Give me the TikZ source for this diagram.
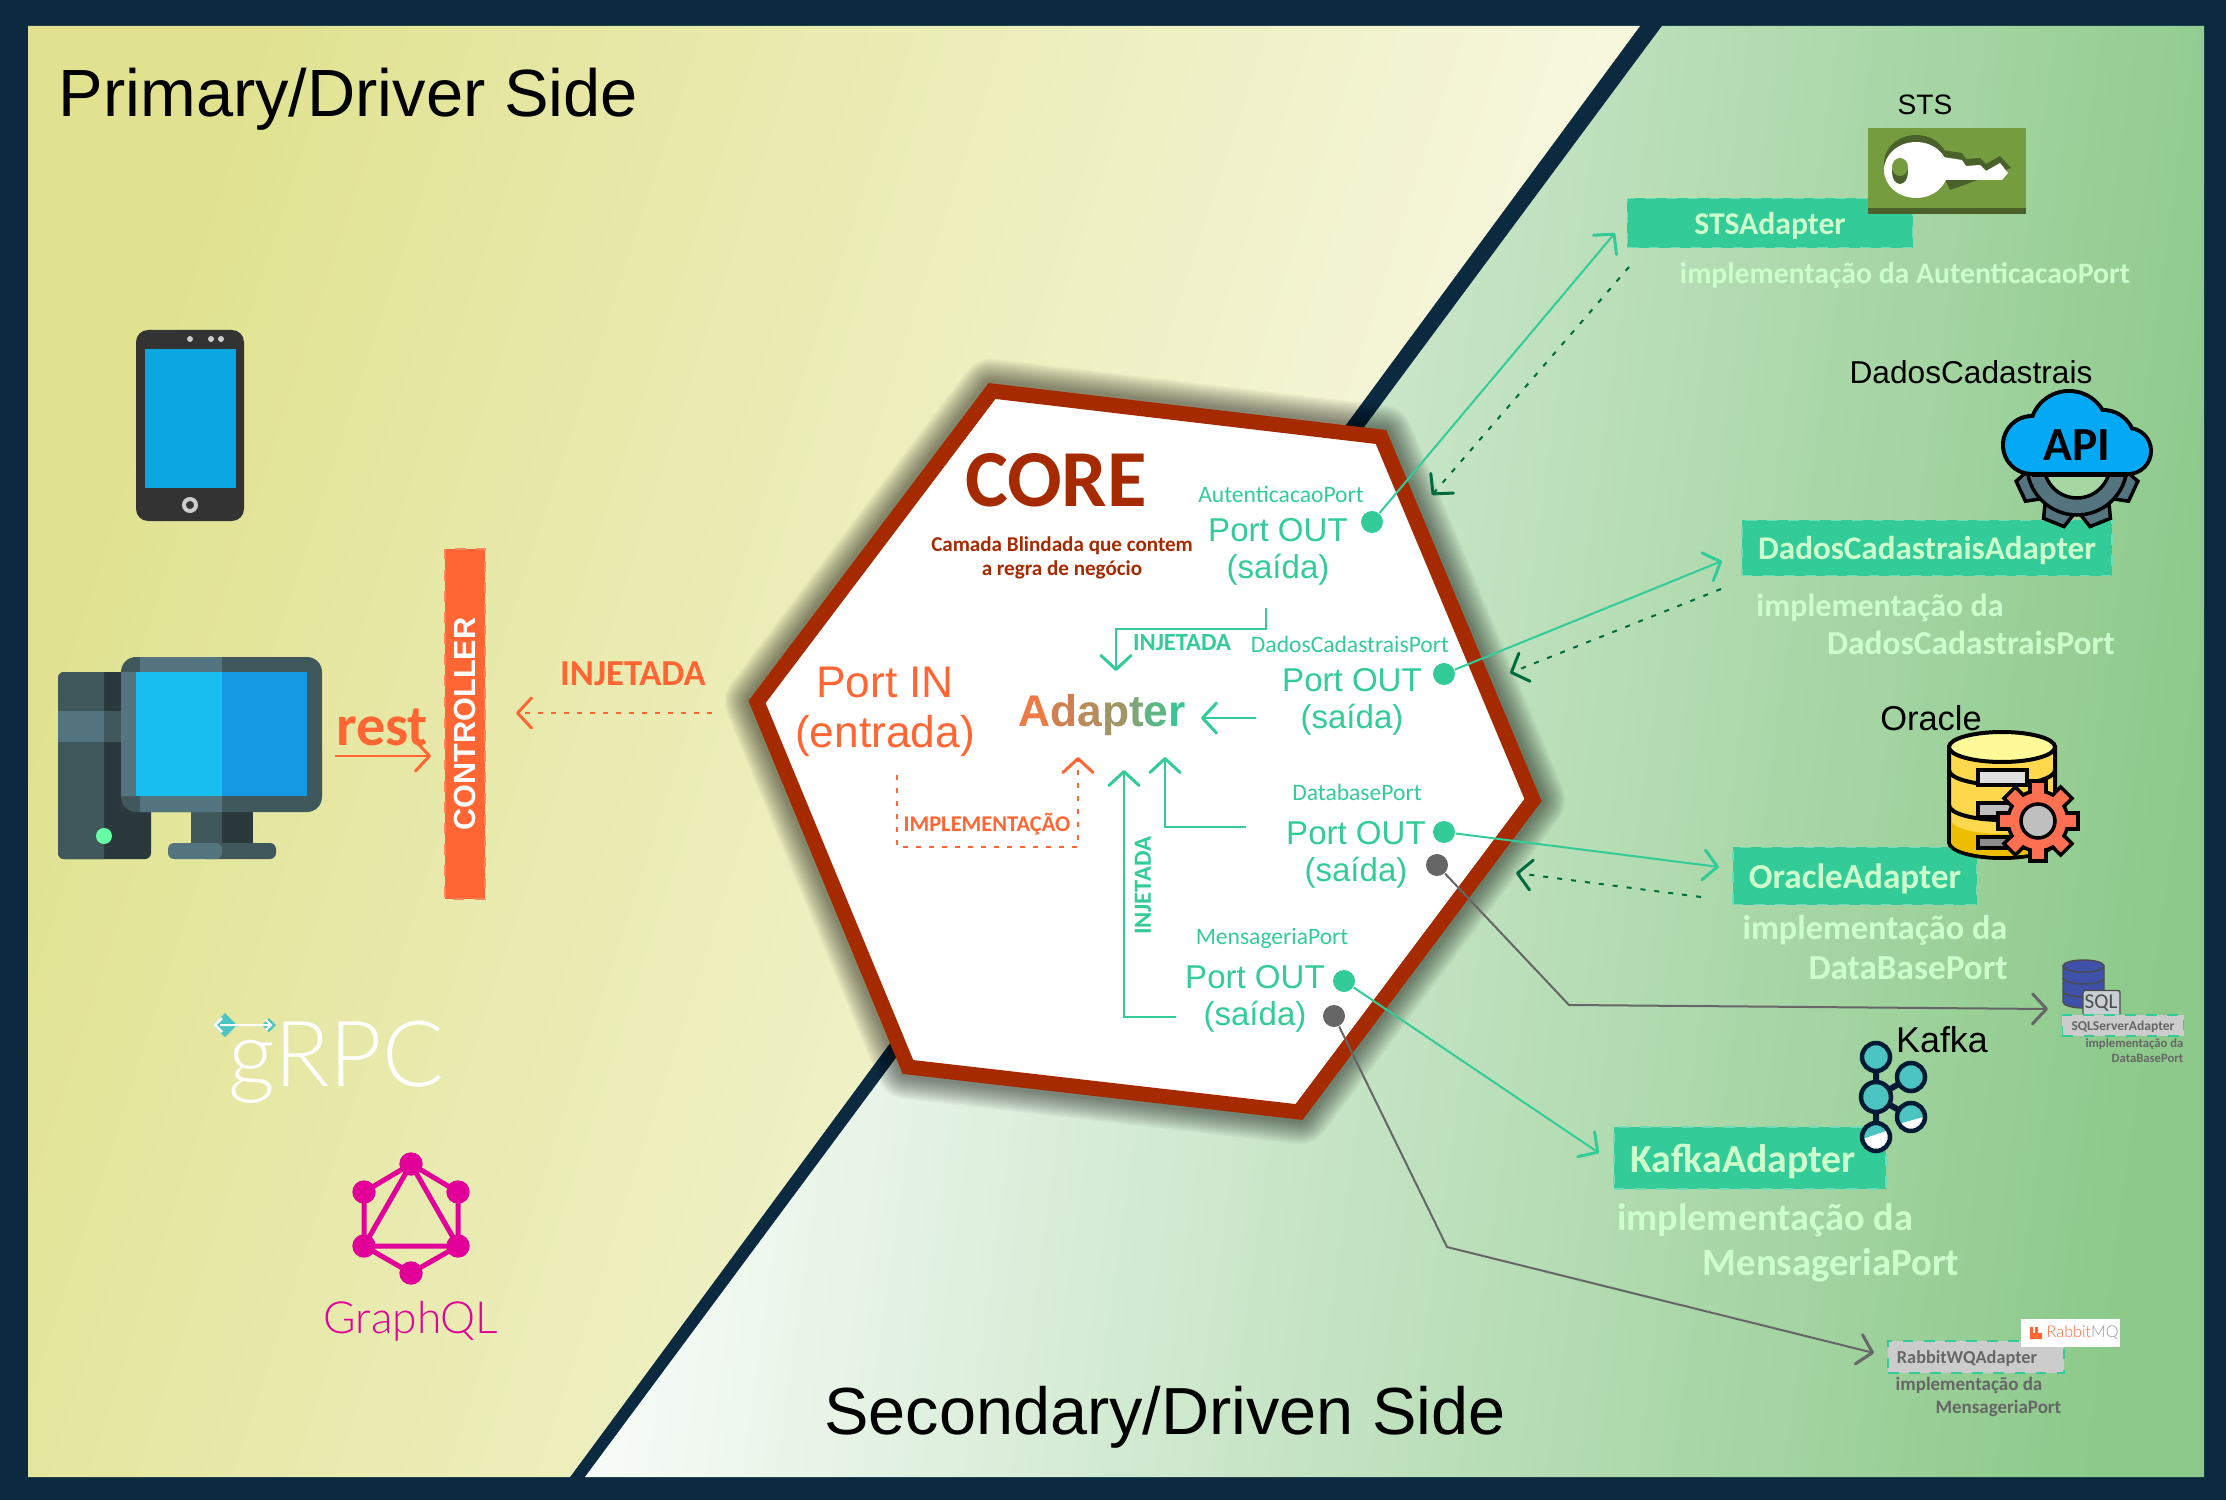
\documentclass[tikz,border=0pt]{standalone}
\usepackage{fontspec}
\usepackage{tikz}
\usetikzlibrary{arrows.meta}
\setmainfont{Liberation Sans}
\newfontfamily\handfont{Carlito}
\newfontfamily\thinfont{Lato Light}

\newcommand{\fs}[2]{\fontsize{#1}{#2}\selectfont}

\definecolor{navy}{HTML}{0B2A40}
\definecolor{coreRed}{HTML}{A52A00}
\definecolor{portGreen}{HTML}{33CC99}
\definecolor{paleGreen}{HTML}{CCFFCC}
\definecolor{backGreen}{HTML}{006B3C}
\definecolor{orangeTxt}{HTML}{FF6633}
\definecolor{greyTxt}{HTML}{666666}
\definecolor{pink}{HTML}{E10098}
\definecolor{slateA}{HTML}{40575C}
\definecolor{slateB}{HTML}{2A3A3C}
\definecolor{slateC}{HTML}{547580}
\definecolor{yellowA}{HTML}{E0E290}
\definecolor{yellowB}{HTML}{FBFBEC}
\definecolor{greenEnd}{HTML}{8CC98A}
\definecolor{keyGreen}{HTML}{759C3E}
\definecolor{keyDark}{HTML}{4B612C}
\definecolor{apiBlue}{HTML}{03A9F4}
\definecolor{kafkaTeal}{HTML}{4CC5C2}
\definecolor{kafkaDark}{HTML}{001B33}
\definecolor{dbYellow}{HTML}{FFD84D}
\definecolor{dbDark}{HTML}{EDBE00}
\definecolor{gearOrange}{HTML}{FF7052}
\definecolor{sqlBlue}{HTML}{3F51A8}
\definecolor{phoneBlue}{HTML}{0BA5E0}
\definecolor{screenA}{HTML}{19BEF0}
\definecolor{screenB}{HTML}{1499E2}
\definecolor{holeGreen}{HTML}{A6D7A3}

\tikzset{
	openarrow/.style={-{Straight Barb[length=1.4mm,width=3mm,line width=0.3mm,round]}},
	greenline/.style={portGreen, line width=0.2mm},
	greyline/.style={greyTxt, line width=0.2mm},
	backline/.style={backGreen, line width=0.2mm, dash pattern=on 0.5mm off 0.9mm},
	orangeline/.style={orangeTxt, line width=0.2mm, dash pattern=on 0.5mm off 0.8mm},
	portdot/.style={circle, fill=portGreen, inner sep=0, minimum size=2.2mm},
	greydot/.style={circle, fill=greyTxt, inner sep=0, minimum size=2.2mm},
	porttxt/.style={portGreen, align=center, font=\fs{9.4}{10.5}},
	portname/.style={portGreen, font=\handfont\fs{6.7}{7}},
	hand/.style={font=\handfont\bfseries\fs{#1}{#1}, text depth=0pt},
	adapterbox/.style={fill=portGreen, draw=portGreen!70!white, dashed, line width=0.15mm, inner sep=0, text=paleGreen},
	greybox/.style={fill=black!20, draw=portGreen, dashed, line width=0.15mm, inner sep=0, text=greyTxt},
	blacktxt/.style={black, font=\fs{#1}{#1}},
}

\begin{document}
\begin{tikzpicture}[x=0.01cm, y=-0.01cm]
	\useasboundingbox (0,0) rectangle (2226,1500);
	\fill[navy] (0,0) rectangle (2226,1500);

	\shade[left color=yellowA, right color=yellowB, shading angle=72]
		(28,26) -- (1640,26) -- (570,1477) -- (28,1477) -- cycle;
	\shade[left color=white, right color=greenEnd, shading angle=82]
		(1662,26) -- (2204,26) -- (2204,1477) -- (585,1477) -- cycle;

	\node[blacktxt=19, anchor=base west, inner sep=0] (primaryTitle) at (58,117) {Primary/Driver Side};
	\node[blacktxt=18.95, anchor=base] (secondaryTitle) at (1165,1434) {Secondary/Driven Side};

	% hexagon
	\foreach \w in {6.4,6.1,...,2}{
		\draw[black, opacity=0.035, line width=\w mm, line join=round]
			(992,391) -- (1381,437) -- (1533,800) -- (1299,1112) -- (908,1067) -- (757,702) -- cycle;
	}
	\draw[coreRed, fill=white, line width=1.5mm, line join=miter]
		(992,391) -- (1381,437) -- (1533,800) -- (1299,1112) -- (908,1067) -- (757,702) -- cycle;

	\node[coreRed, hand=23] (coreTitle) at (1056,480) {CORE};
	\node[coreRed, align=center, font=\handfont\bfseries\fs{6}{7}] (coreNote) at (1062,558)
		{Camada Blindada que contem\\a regra de negócio};

	\node[orangeTxt, align=center, font=\fs{12.6}{14.2}] (portIn) at (885,712) {Port IN\\(entrada)};
	\node[font=\bfseries\fs{12.6}{13}, anchor=base] (adapter) at (1102,726) {%
		\textcolor[HTML]{EE7A45}{A}\textcolor[HTML]{D08050}{d}\textcolor[HTML]{B88C5C}{a}\textcolor[HTML]{9F9565}{p}\textcolor[HTML]{7FA676}{t}\textcolor[HTML]{5CB584}{e}\textcolor[HTML]{3DC495}{r}};

	% ports
	\node[portname] (authName) at (1281,494) {AutenticacaoPort};
	\node[porttxt] (authPort) at (1278,552) {Port OUT\\(saída)};
	\node[portdot] (authDot) at (1372,522) {};

	\node[portname] (dadosName) at (1350,644) {DadosCadastraisPort};
	\node[porttxt] (dadosPort) at (1352,702) {Port OUT\\(saída)};
	\node[portdot] (dadosDot) at (1444,674) {};

	\node[portname] (dbName) at (1357,792) {DatabasePort};
	\node[porttxt] (dbPort) at (1356,855) {Port OUT\\(saída)};
	\node[portdot] (dbDot) at (1444,832) {};
	\node[greydot] (dbGrey) at (1437,865) {};

	\node[portname] (msgName) at (1272,938) {MensageriaPort};
	\node[porttxt] (msgPort) at (1255,999) {Port OUT\\(saída)};
	\node[portdot] (msgDot) at (1344,981) {};
	\node[greydot] (msgGrey) at (1334,1016) {};

	% inside the hexagon
	\coordinate (authOut) at (1266,608);
	\coordinate (authIn) at (1116,671);
	\coordinate (dadosOut) at (1256,718);
	\coordinate (dadosIn) at (1201,718);
	\coordinate (dbOut) at (1246,827);
	\coordinate (dbIn) at (1165,757);
	\coordinate (msgOut) at (1176,1017);
	\coordinate (msgIn) at (1124,770);
	\coordinate (implOut) at (897,775);
	\coordinate (implIn) at (1078,757);

	\draw[greenline, openarrow] (authOut) -- ++(0,21) -| (authIn);
	\draw[greenline, openarrow] (dadosOut) -- (dadosIn);
	\draw[greenline, openarrow] (dbOut) -| (dbIn);
	\draw[greenline, openarrow] (msgOut) -| (msgIn);
	\draw[orangeline, openarrow] (implOut) -- ++(0,72) -| (implIn);

	\node[portGreen, hand=7] (injTop) at (1182,643) {INJETADA};
	\node[portGreen, hand=7, rotate=90] (injSide) at (1143,886) {INJETADA};
	\node[orangeTxt, hand=6.4] (implLabel) at (987,822) {IMPLEMENTAÇÃO};

	% left side
	\fill[black!80, rounded corners=1.2mm] (136,330) rectangle (244,521);
	\fill[phoneBlue] (145,349) rectangle (235.5,488);
	\foreach \x in {190,211,221}{
		\fill[black!20] (\x,339) circle [radius=3];
	}
	\draw[black!20, line width=0.4mm] (190,505) circle [radius=6];

	\fill[slateB, rounded corners=0.6mm] (58,672) rectangle (151,859);
	\fill[slateA] (104,672) [rounded corners=0.6mm] -- (58,672) -- (58,859) [sharp corners] -- (104,859) -- cycle;
	\fill[slateC] (58,711) rectangle (104,742);
	\fill[slateA] (104,711) rectangle (130,742);
	\fill[green!60!cyan!60!white] (104,836) ellipse [x radius=8, y radius=8];
	\fill[slateA] (191,812) rectangle (222,845);
	\fill[slateB] (222,812) rectangle (253,845);
	\fill[slateA, rounded corners=0.6mm] (200,843) rectangle (276,859);
	\fill[slateC, rounded corners=0.6mm] (168,843) rectangle (222,859);
	\fill[slateA, rounded corners=1.5mm] (121,657) rectangle (322,812);
	\fill[slateC] (140,657) rectangle (222,672) (121,672) rectangle (136,796) (140,796) rectangle (222,812);
	\fill[screenA] (136,672) rectangle (222,796);
	\fill[screenB] (222,672) rectangle (307,796);

	\node[orangeTxt, hand=16.5] (restLabel) at (382,727) {rest};
	\node[fill=orangeTxt, draw=orangeTxt!80!white, dashed, line width=0.15mm, minimum width=3.5cm, minimum height=0.4cm, inner sep=0, rotate=90] (controller) at (465,724) {};
	\node[white, rotate=90, font=\bfseries\fs{8.7}{9}] (controllerTxt) at (465,724) {CONTROLLER};
	\coordinate (restFrom) at (335,756);
	\coordinate (restTo) at (431,756);
	\draw[orangeTxt, line width=0.2mm, openarrow] (restFrom) -- (restTo);
	\node[orangeTxt, hand=10.4] (injLeft) at (633,674) {INJETADA};
	\coordinate (injFrom) at (712,713);
	\coordinate (injTo) at (516,713);
	\draw[orangeline, openarrow] (injFrom) -- (injTo);

	\node[white, font=\thinfont\fs{26}{27}, anchor=base west, inner sep=0] (grpcLabel) at (228,1086) {gRPC};
	\fill[kafkaTeal] (213,1025) -- (225,1013) -- (237,1025) -- (225,1037) -- cycle;
	\fill[kafkaTeal] (262,1025) -- (269,1018) -- (276,1025) -- (269,1032) -- cycle;
	\draw[white, line width=0.25mm] (222,1018) -- (215,1025) -- (222,1032);
	\draw[white, line width=0.2mm] (220,1025) -- (272,1025) (266,1020) -- (271,1025) -- (266,1030);

	\draw[pink, line width=0.5mm] (411,1164) -- (458,1192) -- (458,1246) -- (411,1273) -- (364,1246) -- (364,1192) -- cycle;
	\draw[pink, line width=0.5mm] (411,1164) -- (458,1246) -- (364,1246) -- cycle;
	\foreach \x/\y in {411/1164,364/1192,458/1192,364/1246,458/1246,411/1273}{
		\fill[pink] (\x,\y) circle [radius=11.7];
	}
	\node[pink, font=\thinfont\fs{12.6}{13}, anchor=base] (graphqlLabel) at (411,1333) {GraphQL};

	% STS
	\node[adapterbox, minimum width=2.85cm, minimum height=0.49cm, hand=9] (stsBox) at (1770,223) {STSAdapter};
	\fill[keyGreen] (1868,128) rectangle (2026,214);
	\fill[keyDark] (1868,208) rectangle (2026,214);
	\fill[keyDark] (1916,163) ellipse [x radius=32, y radius=28];
	\fill[keyDark] (1930,148) -- (1962,153) -- (1966,159) -- (1980,158) -- (1986,164) -- (2000,156) -- (2011,168) -- (1950,190) -- cycle;
	\fill[white] (1916,170) ellipse [x radius=32, y radius=28];
	\fill[white] (1930,155) -- (1962,160) -- (1966,166) -- (1980,165) -- (1986,171) -- (2000,163) -- (2008,173) -- (2002,180) -- (1930,180) -- cycle;
	\fill[keyDark] (1900,172) ellipse [x radius=8, y radius=12];
	\fill[keyGreen] (1900,167) ellipse [x radius=8, y radius=9];
	\node[blacktxt=8, anchor=center] (stsName) at (1925,105) {STS};
	\node[text=paleGreen, hand=8.45] (stsImpl) at (1905,273) {implementação da AutenticacaoPort};

	% DadosCadastrais
	\node[adapterbox, minimum width=3.7cm, minimum height=0.55cm, hand=9.4] (dadosBox) at (1927,548) {DadosCadastraisAdapter};
	\foreach \a in {25,68,112,155}{
		\draw[black, fill=slateC, line width=0.35mm, rotate around={\a:(2077,465)}] (2015,454) -- (2032,449) -- (2032,481) -- (2015,476) -- cycle;
	}
	\draw[black, fill=slateC, line width=0.35mm] (2077,465) circle [radius=50];
	\draw[black, fill=holeGreen, line width=0.35mm] (2077,465) circle [radius=33];
	\foreach \x/\y/\r in {2069/430/41,2032/445/31,2128/451/25,2103/442/34}{
		\fill[black] (\x,\y) circle [radius=\r];
	}
	\fill[black] (2032,445) rectangle (2128,477);
	\foreach \x/\y/\r in {2069/430/37,2032/445/27,2128/451/21,2103/442/30}{
		\fill[apiBlue] (\x,\y) circle [radius=\r];
	}
	\fill[apiBlue] (2032,445) rectangle (2128,472);
	\node[black, font=\handfont\bfseries\fs{13.5}{14}] (apiLabel) at (2077,445) {API};
	\node[blacktxt=9, anchor=center] (dadosLabel) at (1971,372) {DadosCadastrais};
	\node[text=paleGreen, hand=9.1] (dadosImplA) at (1880,605) {implementação da};
	\node[text=paleGreen, hand=9.5] (dadosImplB) at (1971,643) {DadosCadastraisPort};

	% Oracle
	\node[adapterbox, minimum width=2.44cm, minimum height=0.57cm, hand=10] (oracleBox) at (1855,876) {OracleAdapter};
	\draw[black, fill=dbYellow, line width=0.4mm] (1949,747) -- (1949,842) arc [start angle=180, end angle=0, x radius=53, y radius=16] -- (2055,747) -- cycle;
	\fill[dbDark] (1951,820) -- (1951,842) arc [start angle=180, end angle=0, x radius=51, y radius=14] -- (2053,820) arc [start angle=0, end angle=180, x radius=51, y radius=14] -- cycle;
	\draw[black, line width=0.4mm] (1949,770) arc [start angle=180, end angle=0, x radius=53, y radius=15];
	\draw[black, line width=0.4mm] (1949,805) arc [start angle=180, end angle=0, x radius=53, y radius=15];
	\draw[black, fill=yellow!40!white, line width=0.4mm] (2002,747) ellipse [x radius=53, y radius=15];
	\draw[black, fill=black!12, line width=0.35mm] (1978,770) rectangle (2027,785);
	\draw[black, fill=black!25, line width=0.35mm] (1978,803) rectangle (2027,817);
	\draw[black, fill=black!45, line width=0.35mm] (1978,837) rectangle (2027,848);
	\foreach \a in {0,45,...,315}{
		\draw[black, fill=gearOrange, line width=0.35mm, rotate around={\a:(2038,821)}] (2030,781) rectangle (2046,800);
	}
	\draw[black, fill=gearOrange, line width=0.35mm] (2038,821) circle [radius=30];
	\foreach \a in {0,45,...,315}{
		\fill[gearOrange, rotate around={\a:(2038,821)}] (2032,783) rectangle (2044,800);
	}
	\draw[black, fill=black!25, line width=0.35mm] (2038,821) circle [radius=17];
	\node[blacktxt=9.8, anchor=center] (oracleLabel) at (1931,718) {Oracle};
	\node[text=paleGreen, hand=9.75] (oracleImplA) at (1875,927) {implementação da};
	\node[text=paleGreen, hand=10] (oracleImplB) at (1908,968) {DataBasePort};

	% SQL Server
	\draw[black!70, fill=sqlBlue] (2063,966) -- (2063,1002) arc [start angle=180, end angle=0, x radius=20.5, y radius=6] -- (2104,966) -- cycle;
	\draw[black!70] (2063,978) arc [start angle=180, end angle=0, x radius=20.5, y radius=6];
	\draw[black!70] (2063,991) arc [start angle=180, end angle=0, x radius=20.5, y radius=6];
	\draw[black!70, fill=sqlBlue] (2083.5,966) ellipse [x radius=20.5, y radius=6];
	\node[greybox, minimum width=1.21cm, minimum height=0.21cm, hand=3.85] (sqlBox) at (2123,1025.5) {SQLServerAdapter};
	\draw[black!70, fill=cyan!20!black!25!white, rounded corners=0.2mm] (2083,1014) -- (2083,990.5) -- (2120,990.5) -- (2120,1014);
	\node[black!70, font=\handfont\fs{6}{6}] (sqlTag) at (2101,1003) {SQL};
	\node[greyTxt, hand=3.6, anchor=east, inner sep=0] (sqlImplA) at (2184,1043) {implementação da};
	\node[greyTxt, hand=3.6, anchor=east, inner sep=0] (sqlImplB) at (2184,1058.5) {DataBasePort};

	% Kafka
	\node[adapterbox, minimum width=2.72cm, minimum height=0.62cm, hand=11.3] (kafkaBox) at (1750,1158) {KafkaAdapter\kern0.14cm\mbox{}};
	\draw[kafkaDark, line width=0.6mm] (1876,1057) -- (1876,1137) (1876,1097) -- (1911,1077) (1876,1097) -- (1911,1117);
	\foreach \x/\y/\r in {1876/1057/14,1876/1097/15,1911/1077/14,1911/1117/14,1876/1137/14}{
		\fill[kafkaTeal] (\x,\y) circle [radius=\r];
	}
	\begin{scope}
		\clip (1876,1137) circle [radius=14];
		\fill[white] (1860,1140) -- (1892,1129) -- (1892,1155) -- (1860,1155) -- cycle;
	\end{scope}
	\begin{scope}
		\clip (1911,1117) circle [radius=14];
		\fill[white] (1895,1125) -- (1927,1116) -- (1927,1135) -- (1895,1135) -- cycle;
	\end{scope}
	\foreach \x/\y/\r in {1876/1057/14,1876/1097/15,1911/1077/14,1911/1117/14,1876/1137/14}{
		\draw[kafkaDark, line width=0.45mm] (\x,\y) circle [radius=\r];
	}
	\node[blacktxt=10.2, anchor=center] (kafkaLabel) at (1942,1040) {Kafka};
	\node[text=paleGreen, hand=10.9] (kafkaImplA) at (1765,1217) {implementação da};
	\node[text=paleGreen, hand=11] (kafkaImplB) at (1831,1262) {MensageriaPort};

	% RabbitMQ
	\node[greybox, minimum width=1.76cm, minimum height=0.32cm, hand=5.2] (rabbitBox) at (1976,1357) {RabbitWQAdapter\kern0.18cm\mbox{}};
	\node[fill=white, minimum width=0.99cm, minimum height=0.28cm, inner sep=0] (rabbitLogo) at (2070.5,1333) {};
	\node[font=\thinfont\fs{4.6}{5}, anchor=west, inner sep=0] (rabbitTxt) at (2046,1333) {\textcolor{orangeTxt}{Rabbit}\textcolor{black!40}{MQ}};
	\fill[orangeTxt] (2030,1327) rectangle (2033,1339) (2033,1333) rectangle (2042,1339) (2035,1327) rectangle (2038,1333);
	\node[greyTxt, hand=5.4, anchor=west, inner sep=0] (rabbitImplA) at (1895,1384) {implementação da};
	\node[greyTxt, hand=5.4, anchor=east, inner sep=0] (rabbitImplB) at (2062,1407) {MensageriaPort};

	% connectors
	\coordinate (stsTip) at (1615,233);
	\coordinate (stsBack) at (1629,267);
	\coordinate (stsBackTip) at (1432,495);
	\coordinate (dadosTip) at (1722,561);
	\coordinate (dadosBack) at (1721,589);
	\coordinate (dadosBackTip) at (1510,673);
	\coordinate (oracleTip) at (1719,867);
	\coordinate (oracleBack) at (1701,897);
	\coordinate (oracleBackTip) at (1516,873);
	\coordinate (sqlBend) at (1569,1005);
	\coordinate (sqlTip) at (2048,1009);
	\coordinate (kafkaTip) at (1599,1153);
	\coordinate (rabbitBend) at (1447,1247);
	\coordinate (rabbitTip) at (1874,1353);

	\draw[greenline, openarrow] (authDot) -- (stsTip);
	\draw[backline, openarrow] (stsBack) -- (stsBackTip);
	\draw[greenline, openarrow] (dadosDot) -- (dadosTip);
	\draw[backline, openarrow] (dadosBack) -- (dadosBackTip);
	\draw[greenline, openarrow] (dbDot) -- (oracleTip);
	\draw[backline, openarrow] (oracleBack) -- (oracleBackTip);
	\draw[greyline, openarrow] (dbGrey) -- (sqlBend) -- (sqlTip);
	\draw[greenline, openarrow] (msgDot) -- (kafkaTip);
	\draw[greyline, openarrow] (msgGrey) -- (rabbitBend) -- (rabbitTip);
\end{tikzpicture}
\end{document}
